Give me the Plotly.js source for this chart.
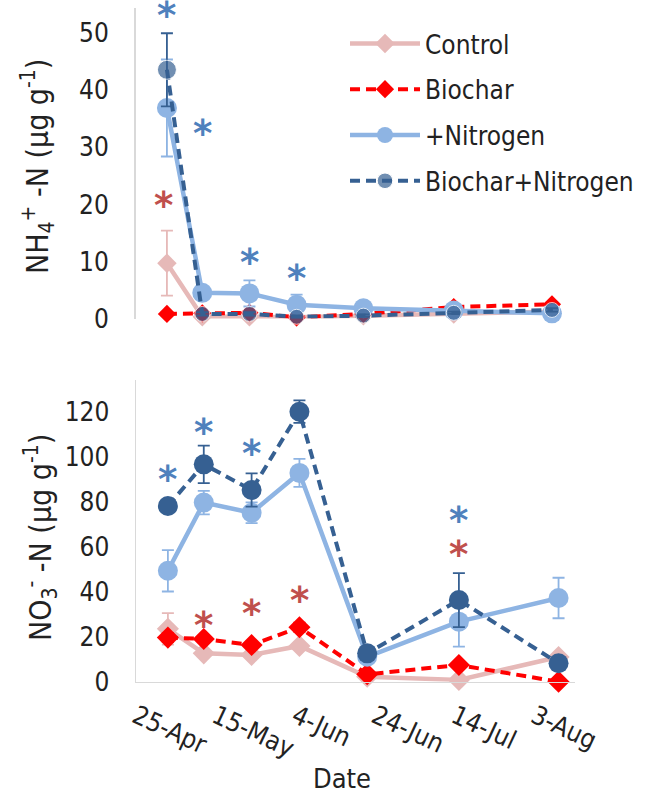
<!DOCTYPE html>
<html><head><meta charset="utf-8">
<script src="https://cdn.plot.ly/plotly-3.0.1.min.js"></script>
<style>html,body{margin:0;padding:0;background:#fff}#chart{width:645px;height:795px}</style>
</head><body><div id="chart"></div>
<script>
// ---- data ----
const dates = ['2015-05-03','2015-05-12','2015-05-24','2015-06-05','2015-06-22','2015-07-15','2015-08-09'];
const seriesNames = ['Control','Biochar','+Nitrogen','Biochar+Nitrogen'];

// NH4+ -N (ug g-1)
const nh4Control      = [9.7, 0.3, 0.3, 0.2, 0.5, 0.8, 1.2];
const nh4ControlErr   = [5.7, 0.3, 0.3, 0.2, 0.3, 0.3, 0.3];
const nh4Biochar      = [0.8, 0.9, 1.0, 0.2, 0.8, 2.0, 2.5];
const nh4BiocharErr   = [0.3, 0.3, 0.3, 0.2, 0.2, 0.3, 0.3];
const nh4Nitrogen     = [36.9, 4.5, 4.4, 2.4, 1.8, 1.4, 0.9];
const nh4NitrogenErr  = [8.5, 0.5, 2.3, 1.8, 0.4, 0.3, 0.3];
const nh4BN           = [43.6, 0.8, 0.8, 0.3, 0.5, 1.0, 1.5];
const nh4BNErr        = [6.4, 0.3, 0.3, 0.2, 0.2, 0.2, 0.3];

// NO3- -N (ug g-1)
const no3Control      = [23.5, 12.6, 11.9, 15.9, 2.2, 0.8, 11.0];
const no3ControlErr   = [7.0, 1.0, 1.0, 1.0, 0.5, 0.5, 1.5];
const no3Biochar      = [19.6, 19.0, 16.3, 24.2, 3.3, 7.4, 0.0];
const no3BiocharErr   = [2.0, 1.5, 1.5, 2.0, 0.5, 1.0, 0.3];
const no3Nitrogen     = [49.3, 79.6, 75.1, 92.8, 11.1, 26.7, 37.2];
const no3NitrogenErr  = [9.2, 5.2, 4.6, 6.2, 1.5, 11.1, 9.0];
const no3BN           = [78.1, 96.6, 85.2, 120.0, 12.6, 36.3, 8.2];
const no3BNErr        = [2.0, 8.3, 7.4, 5.0, 2.0, 12.0, 1.5];

// significance markers (*)
const nh4StarBlueX = [dates[0], dates[1], dates[2], dates[3]];
const nh4StarBlueY = [54.2, 33.6, 11.0, 8.2];
const nh4StarRedX  = ['2015-05-02'];
const nh4StarRedY  = [20.9];
const no3StarBlueX = [dates[0], dates[1], dates[2], dates[3], dates[5]];
const no3StarBlueY = [92.6, 113.6, 104.2, 137.0, 74.5];
const no3StarRedX  = [dates[1], dates[2], dates[3], dates[5]];
const no3StarRedY  = [27.7, 33.3, 39.0, 59.3];

const xTickStart = '2015-04-25';
const xRange = ['2015-04-25', '2015-08-13'];

// ---- styles ----
const FONT = '"DejaVu Sans Condensed", "DejaVu Sans", sans-serif';
const TXT = '#222222';
const colors = ['#E6B9B8', '#FF0000', '#8EB4E3', '#366092'];
const symbols = ['diamond', 'diamond', 'circle', 'circle'];
const dashes = ['solid', '10px,6px', 'solid', '10px,6px'];
const widths = [4.5, 4, 4.5, 4];
const starBlue = '#4F81BD', starRed = '#C0504D';

function mk(i, y, err, xa, ya, showLeg, sizes) {
  return {
    type: 'scatter', mode: 'lines+markers', name: seriesNames[i],
    x: dates, y: y, xaxis: xa, yaxis: ya,
    showlegend: showLeg, legendgroup: 'g' + i + xa,
    line: {color: colors[i], width: widths[i], dash: dashes[i]},
    marker: {color: colors[i], symbol: symbols[i], size: sizes},
    error_y: {type: 'data', array: err, visible: true, color: colors[i], thickness: 1.8, width: 6},
    cliponaxis: false
  };
}

const traces = [
  mk(0, nh4Control, nh4ControlErr, 'x2', 'y2', true, 15),
  mk(1, nh4Biochar, nh4BiocharErr, 'x2', 'y2', true, 14),
  mk(2, nh4Nitrogen, nh4NitrogenErr, 'x2', 'y2', true, 20),
  mk(3, nh4BN, nh4BNErr, 'x2', 'y2', true, [19, 15, 15, 15, 15, 15, 15]),
  mk(0, no3Control, no3ControlErr, 'x', 'y', false, 17),
  mk(1, no3Biochar, no3BiocharErr, 'x', 'y', false, 17),
  mk(2, no3Nitrogen, no3NitrogenErr, 'x', 'y', false, 20),
  mk(3, no3BN, no3BNErr, 'x', 'y', false, 20)
];

const annotations = [];
function stars(xs, ys, xref, yref, color) {
  xs.forEach((xv, k) => annotations.push({
    x: xv, y: ys[k], xref: xref, yref: yref, text: '*', showarrow: false,
    font: {family: '"DejaVu Sans", sans-serif', size: 37, weight: 'bold', color: color},
    xanchor: 'center', yanchor: 'top', yshift: 17
  }));
}
stars(nh4StarBlueX, nh4StarBlueY, 'x2', 'y2', starBlue);
stars(nh4StarRedX, nh4StarRedY, 'x2', 'y2', starRed);
stars(no3StarBlueX, no3StarBlueY, 'x', 'y', starBlue);
stars(no3StarRedX, no3StarRedY, 'x', 'y', starRed);

annotations.push({
  xref: 'paper', yref: 'paper', x: 38 / 645, y: (795 - 167) / 795, textangle: -90,
  text: 'NH<sub>4</sub><sup>+</sup> -N (μg g<sup>-1</sup>)', showarrow: false,
  font: {family: FONT, size: 30, color: TXT}, xanchor: 'center', yanchor: 'middle'
});
annotations.push({
  xref: 'paper', yref: 'paper', x: 40 / 645, y: (795 - 538) / 795, textangle: -90,
  text: 'NO<sub>3</sub><sup>-</sup> -N (μg g<sup>-1</sup>)', showarrow: false,
  font: {family: FONT, size: 30, color: TXT}, xanchor: 'center', yanchor: 'middle'
});
annotations.push({
  xref: 'paper', yref: 'paper', x: 342 / 645, y: (795 - 778) / 795,
  text: 'Date', showarrow: false,
  font: {family: FONT, size: 27, color: TXT}, xanchor: 'center', yanchor: 'middle'
});

const axCommon = {showgrid: false, zeroline: false, ticks: '', tickfont: {family: FONT, size: 26, color: TXT}};
const layout = {
  width: 645, height: 795,
  margin: {l: 0, r: 0, t: 0, b: 0},
  paper_bgcolor: '#fff', plot_bgcolor: 'rgba(0,0,0,0)',
  font: {family: FONT, color: TXT},
  showlegend: true,
  legend: {
    x: 345 / 645, y: (795 - 20) / 795, xanchor: 'left', yanchor: 'top',
    bgcolor: 'rgba(0,0,0,0)', font: {family: FONT, size: 26, color: TXT},
    itemwidth: 70, tracegroupgap: 9
  },
  xaxis: Object.assign({}, axCommon, {
    type: 'date', anchor: 'y', domain: [136 / 645, 574.5 / 645], range: xRange,
    tick0: xTickStart, dtick: 20 * 86400000, tickformat: '%-d-%b', tickangle: 25,
    showline: true, linecolor: '#D9D9D9', linewidth: 1.5, ticklabelstandoff: 8
  }),
  xaxis2: Object.assign({}, axCommon, {
    type: 'date', anchor: 'y2', domain: [135.5 / 645, 567.7 / 645], range: xRange,
    showticklabels: false, showline: false
  }),
  yaxis: Object.assign({}, axCommon, {
    anchor: 'x', domain: [(795 - 681.7) / 795, (795 - 380.2) / 795], range: [0, 134], dtick: 20,
    showline: true, linecolor: '#D9D9D9', linewidth: 1.5, ticklabelstandoff: 20
  }),
  yaxis2: Object.assign({}, axCommon, {
    anchor: 'x2', domain: [(795 - 318.5) / 795, (795 - 7.6) / 795], range: [0, 54.5], dtick: 10,
    showline: true, linecolor: '#D9D9D9', linewidth: 1.5, ticklabelstandoff: 20
  }),
  annotations: annotations
};

Plotly.newPlot('chart', traces, layout, {staticPlot: true, displayModeBar: false});
</script>
</body></html>
